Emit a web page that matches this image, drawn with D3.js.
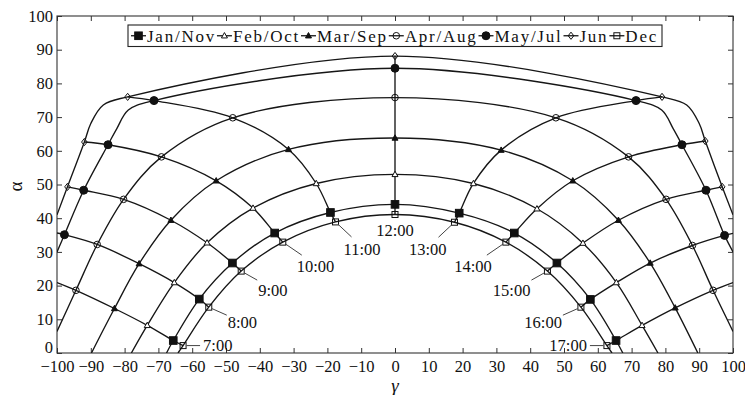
<!DOCTYPE html>
<html>
<head>
<meta charset="utf-8">
<script src="https://cdn.jsdelivr.net/npm/d3@7"></script>
<style>
  body { margin: 0; background: #fff; }
  text { font-family: "Liberation Serif", "Times New Roman", serif; fill: #111; }
</style>
</head>
<body>
<svg id="chart" width="745" height="395"></svg>
<script>
// Solar position diagram: azimuth γ (x) against altitude α (y), one curve per month,
// hourly points 7:00 … 17:00 joined by hour lines.

const hourLabels = ["7:00", "8:00", "9:00", "10:00", "11:00", "12:00", "13:00", "14:00", "15:00", "16:00", "17:00"];
const seriesNames = ["Jan/Nov", "Feb/Oct", "Mar/Sep", "Apr/Aug", "May/Jul", "Jun", "Dec"];
const xTicks = [-100, -90, -80, -70, -60, -50, -40, -30, -20, -10, 0, 10, 20, 30, 40, 50, 60, 70, 80, 90, 100];
const yTicks = [0, 10, 20, 30, 40, 50, 60, 70, 80, 90, 100];

// [γ, α] at 7:00 … 17:00 (null: sun outside the plotted range)
const janNov = [[-65.6, 3.7], [-57.9, 16.0], [-48.1, 26.7], [-35.6, 35.6], [-19.1, 41.7], [0, 44.1],
                [19.0, 41.5], [35.3, 35.6], [47.9, 26.7], [57.8, 15.9], [65.4, 3.7]];
const febOct = [[-73.3, 8.2], [-65.3, 20.9], [-55.6, 32.7], [-42.0, 43.0], [-23.3, 50.3], [0, 53.0],
                [23.2, 50.3], [42.0, 42.8], [55.6, 32.6], [65.5, 20.9], [73.1, 8.2]];
const marSep = [[-83.0, 13.2], [-75.7, 26.5], [-66.3, 39.4], [-52.9, 51.1], [-31.5, 60.4], [0, 63.8],
                [31.4, 60.2], [52.6, 51.1], [66.1, 39.4], [75.5, 26.7], [82.9, 13.4]];
const aprAug = [[-94.4, 18.6], [-88.1, 32.2], [-80.3, 45.6], [-69.1, 58.2], [-48.0, 69.8], [0, 75.8],
                [47.6, 69.8], [69.1, 58.2], [80.2, 45.6], [88.0, 31.9], [94.1, 18.6]];
const mayJul = [null, [-97.8, 35.1], [-92.1, 48.3], [-84.9, 61.8], [-71.3, 74.9], [0, 84.5],
                [71.3, 74.9], [84.9, 61.8], [92.0, 48.3], [97.5, 34.9], null];
const jun    = [null, null, [-96.9, 49.3], [-91.9, 62.6], [-79.1, 76.0], [0, 88.1],
                [79.0, 76.0], [91.8, 62.9], [96.8, 49.3], null, null];
const dec    = [[-62.7, 2.2], [-55.1, 13.6], [-45.5, 24.3], [-33.2, 32.9], [-17.6, 38.9], [0, 41.1],
                [17.6, 38.8], [32.8, 32.9], [45.1, 24.3], [55.0, 13.6], [62.7, 2.2]];

// where each month curve meets the horizon or leaves the frame
const janNovEnds = [[-67.6, 0], [67.4, 0]];
const febOctEnds = [[-78.0, 0], [77.8, 0]];
const marSepEnds = [[-89.8, 0], [89.6, 0]];
const aprAugEnds = [[-100, 6.4], [100, 6.4]];
const mayJulEnds = [[-100, 30.0], [100, 30.0]];
const junEnds    = [[-100, 41.0], [100, 41.0]];
const decEnds    = [[-64.2, 0], [64.2, 0]];

// extra points along the bends of the summer curves between 10:00/11:00 and 13:00/14:00
const mayJulBend = [[-82.3, 66.6], [-78.9, 72.1], [78.9, 72.1], [82.3, 66.6]];
const junBend    = [[-90.0, 68.1], [-86.3, 73.6], [86.3, 73.6], [90.0, 68.1]];

// hour lines that run out of the frame before reaching the summer curves
const hourEdges = [[[-100, 20.9]], [[-100, 35.6]], [], [], [], [], [], [], [], [[100, 35.5]], [[100, 20.9]]];

const series = [
  { name: seriesNames[0], pts: janNov, ends: janNovEnds, bend: [], mark: "squareFilled" },
  { name: seriesNames[1], pts: febOct, ends: febOctEnds, bend: [], mark: "triOpen" },
  { name: seriesNames[2], pts: marSep, ends: marSepEnds, bend: [], mark: "triFilled" },
  { name: seriesNames[3], pts: aprAug, ends: aprAugEnds, bend: [], mark: "circleOpen" },
  { name: seriesNames[4], pts: mayJul, ends: mayJulEnds, bend: mayJulBend, mark: "circleFilled" },
  { name: seriesNames[5], pts: jun, ends: junEnds, bend: junBend, mark: "diamondOpen" },
  { name: seriesNames[6], pts: dec, ends: decEnds, bend: [], mark: "squareOpen" }
];

const svg = d3.select("#chart");
const W = 745, H = 395;
const plot = { left: 57, right: 733, top: 16, bottom: 353 };

const x = d3.scaleLinear().domain([-100, 100]).range([plot.left, plot.right]);
const y = d3.scaleLinear().domain([0, 100]).range([plot.bottom, plot.top]);

svg.append("rect").attr("width", W).attr("height", H).attr("fill", "#fff");

svg.append("defs").append("clipPath").attr("id", "plotClip")
  .append("rect")
  .attr("x", plot.left).attr("y", plot.top)
  .attr("width", plot.right - plot.left).attr("height", plot.bottom - plot.top);

const fmt = d => d < 0 ? "\u2212" + (-d) : String(d);

// axes with inward ticks on all four sides
const axB = svg.append("g").attr("transform", `translate(0,${plot.bottom})`)
  .call(d3.axisBottom(x).tickValues(xTicks).tickSizeInner(-5).tickSizeOuter(0).tickPadding(7).tickFormat(fmt));
const axT = svg.append("g").attr("transform", `translate(0,${plot.top})`)
  .call(d3.axisTop(x).tickValues(xTicks).tickSizeInner(-5).tickSizeOuter(0).tickFormat(""));
const axL = svg.append("g").attr("transform", `translate(${plot.left},0)`)
  .call(d3.axisLeft(y).tickValues(yTicks).tickSizeInner(-5).tickSizeOuter(0).tickPadding(4).tickFormat(fmt));
const axR = svg.append("g").attr("transform", `translate(${plot.right},0)`)
  .call(d3.axisRight(y).tickValues(yTicks).tickSizeInner(-5).tickSizeOuter(0).tickFormat(""));
[axB, axT, axL, axR].forEach(g => {
  g.select(".domain").remove();
  g.selectAll(".tick line").attr("stroke", "#333").attr("stroke-width", 1);
  g.selectAll(".tick text").attr("font-family", "Liberation Serif, serif").attr("font-size", 16.5).attr("fill", "#111");
});
// the zero on the α axis sits just above the corner so it clears the γ labels
axL.selectAll(".tick text").filter(d => d === 0).attr("dy", "-0.04em");

svg.append("rect")
  .attr("x", plot.left).attr("y", plot.top)
  .attr("width", plot.right - plot.left).attr("height", plot.bottom - plot.top)
  .attr("fill", "none").attr("stroke", "#333").attr("stroke-width", 1.1);

// axis titles
svg.append("text")
  .attr("transform", `translate(22,${(plot.top + plot.bottom) / 2 + 2}) rotate(-90)`)
  .attr("text-anchor", "middle").attr("font-size", 19)
  .text("α");
svg.append("text")
  .attr("x", x(0)).attr("y", 392)
  .attr("text-anchor", "middle").attr("font-size", 19).attr("font-style", "italic")
  .text("γ");

const line = d3.line().x(d => x(d[0])).y(d => y(d[1])).curve(d3.curveCatmullRom.alpha(0.5));
const lines = svg.append("g").attr("clip-path", "url(#plotClip)")
  .attr("fill", "none").attr("stroke", "#161616").attr("stroke-width", 1.35);

// month curves: horizon/frame ends, hourly points and bend points ordered by azimuth
series.forEach(s => {
  const knots = s.pts.filter(p => p).concat(s.ends, s.bend).sort((a, b) => a[0] - b[0]);
  lines.append("path").attr("d", line(knots));
});

// hour lines, from December up to June (ordered by altitude)
hourLabels.forEach((h, i) => {
  const knots = series.map(s => s.pts[i]).filter(p => p).concat(hourEdges[i]).sort((a, b) => a[1] - b[1]);
  lines.append("path").attr("d", line(knots));
});

// markers
function drawMarker(g, type, cx, cy) {
  const k = g.append("g").attr("transform", `translate(${cx},${cy})`)
    .attr("stroke", "#111").attr("stroke-width", 1);
  switch (type) {
    case "squareFilled":
      k.append("rect").attr("x", -3.8).attr("y", -3.8).attr("width", 7.6).attr("height", 7.6).attr("fill", "#111");
      break;
    case "squareOpen":
      k.append("rect").attr("x", -3).attr("y", -3).attr("width", 6).attr("height", 6).attr("fill", "none");
      break;
    case "triOpen":
      k.append("path").attr("d", "M0,-3.2L3,2.2L-3,2.2Z").attr("fill", "#fff");
      break;
    case "triFilled":
      k.append("path").attr("d", "M0,-3.2L3,2.2L-3,2.2Z").attr("fill", "#111");
      break;
    case "circleOpen":
      k.append("circle").attr("r", 3.3).attr("fill", "none");
      break;
    case "circleFilled":
      k.append("circle").attr("r", 4).attr("fill", "#111");
      break;
    case "diamondOpen":
      k.append("path").attr("d", "M0,-3.6L2.8,0L0,3.6L-2.8,0Z").attr("fill", "none");
      break;
  }
}

const marks = svg.append("g");
series.forEach(s => {
  s.pts.forEach(p => { if (p) drawMarker(marks, s.mark, x(p[0]), y(p[1])); });
});

// hour labels beside the December points, with short leader lines
const labelLayout = [
  { lead: [17, 0],  text: [20, 0],  anchor: "start" },
  { lead: [18, 8],  text: [19, 15], anchor: "start" },
  { lead: [16, 9],  text: [17, 19], anchor: "start" },
  { lead: [19, 13], text: [14, 24], anchor: "start" },
  { lead: [16, 15], text: [8, 27],  anchor: "start" },
  { lead: null,     text: [0, 16],  anchor: "middle" },
  { lead: [-16, 15], text: [-8, 27],  anchor: "end" },
  { lead: [-19, 13], text: [-14, 24], anchor: "end" },
  { lead: [-16, 9],  text: [-17, 19], anchor: "end" },
  { lead: [-18, 8],  text: [-19, 15], anchor: "end" },
  { lead: [-17, 0],  text: [-20, 0],  anchor: "end" }
];
const hl = svg.append("g");
hourLabels.forEach((lab, i) => {
  const px = x(dec[i][0]), py = y(dec[i][1]);
  const L = labelLayout[i];
  if (L.lead) {
    const ux = L.lead[0], uy = L.lead[1];
    const n = Math.hypot(ux, uy);
    hl.append("line")
      .attr("x1", px + ux / n * 3.5).attr("y1", py + uy / n * 3.5)
      .attr("x2", px + ux).attr("y2", py + uy)
      .attr("stroke", "#444").attr("stroke-width", 1);
  }
  hl.append("text")
    .attr("x", px + L.text[0]).attr("y", py + L.text[1])
    .attr("dy", "0.35em").attr("text-anchor", L.anchor).attr("font-size", 16.5)
    .text(lab);
});

// legend
const leg = svg.append("g");
const legBox = { left: 128, right: 662, top: 25, bottom: 46.5 };
const legY = (legBox.top + legBox.bottom) / 2;
leg.append("rect")
  .attr("x", legBox.left).attr("y", legBox.top)
  .attr("width", legBox.right - legBox.left).attr("height", legBox.bottom - legBox.top)
  .attr("fill", "#fff").attr("stroke", "#222").attr("stroke-width", 1.1);
const seg = 15, pad = 3;
const items = series.map(s => {
  const t = leg.append("text").attr("font-size", 17).attr("y", legY).attr("dy", "0.35em").text(s.name);
  return { s, t, w: t.node().getComputedTextLength() };
});
const chars = d3.sum(items, d => d.s.name.length);
const natural = d3.sum(items, d => d.w + seg + 2) + pad * 2;
const spacing = Math.max(0, (legBox.right - legBox.left - natural) / chars);
let cx = legBox.left + pad;
items.forEach(d => {
  leg.append("line").attr("x1", cx).attr("x2", cx + seg).attr("y1", legY).attr("y2", legY)
    .attr("stroke", "#161616").attr("stroke-width", 1.3);
  drawMarker(leg, d.s.mark, cx + seg / 2, legY);
  d.t.attr("x", cx + seg + 1).attr("letter-spacing", spacing);
  cx += seg + 2 + d.w + spacing * d.s.name.length;
});
</script>
</body>
</html>
